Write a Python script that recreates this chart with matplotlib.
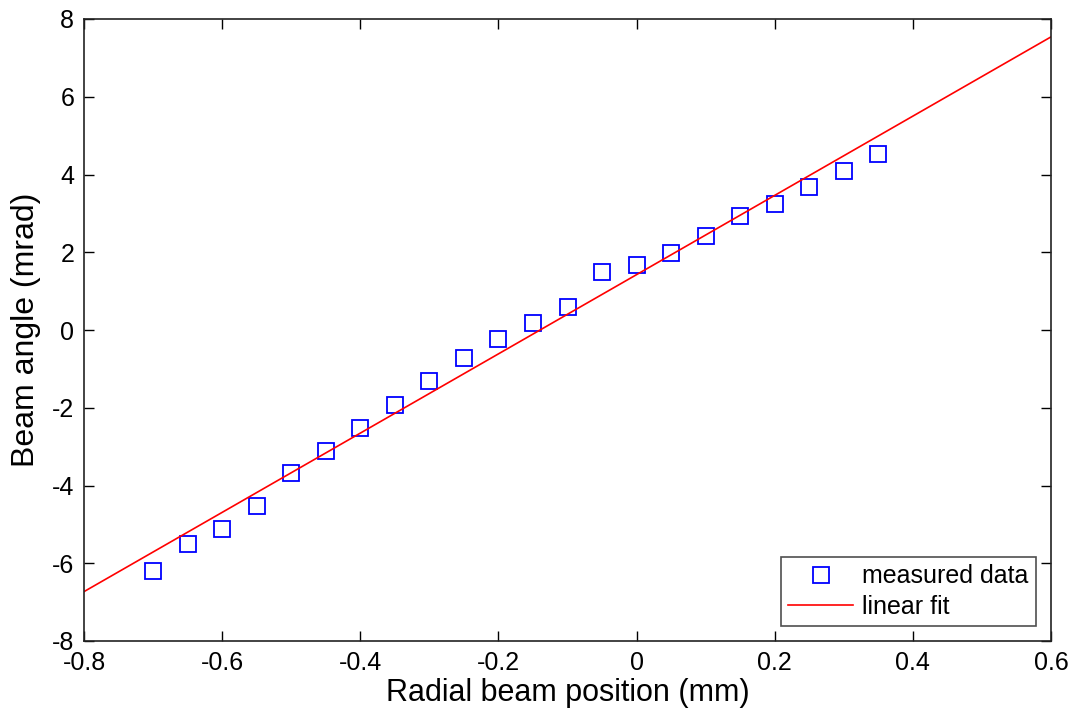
import numpy as np
import matplotlib.pyplot as plt

plt.rcParams['font.family'] = ['Liberation Sans', 'DejaVu Sans']
plt.rcParams['axes.unicode_minus'] = False

pos_mm = [-0.70, -0.65, -0.60, -0.55, -0.50, -0.45, -0.40, -0.35, -0.30, -0.25, -0.20,
          -0.15, -0.10, -0.05, 0.00, 0.05, 0.10, 0.15, 0.20, 0.25, 0.30, 0.35]
angle_mrad = [-6.21, -5.51, -5.13, -4.54, -3.69, -3.10, -2.51, -1.92, -1.30, -0.73, -0.24,
              0.19, 0.60, 1.48, 1.66, 1.97, 2.43, 2.94, 3.25, 3.69, 4.10, 4.54]

# linear fit end points
fit_x = [-0.8, 0.6]
fit_y = [-6.73, 7.54]

fig = plt.figure(figsize=(10.77, 7.13), dpi=100)
ax = fig.add_axes([84/1077, 1-641/713, (1051-84)/1077, (641-19)/713])

ax.plot(pos_mm, angle_mrad, 's', mfc='none', mec='#0000ff', ms=12, mew=1.3,
        label='measured data', linestyle='none')
ax.plot(fit_x, fit_y, '-', color='#ff0000', lw=1.2, label='linear fit')

ax.set_xlim(-0.8, 0.6)
ax.set_ylim(-8, 8)
ax.set_xticks(np.arange(-0.8, 0.61, 0.2))
ax.set_xticklabels(['-0.8', '-0.6', '-0.4', '-0.2', '0', '0.2', '0.4', '0.6'])
ax.set_yticks(np.arange(-8, 9, 2))
ax.tick_params(direction='in', length=7, width=1, labelsize=18, top=True, right=True,
               pad=7)
for s in ax.spines.values():
    s.set_linewidth(1.2)
    s.set_color('#222222')

ax.set_xlabel('Radial beam position (mm)', fontsize=22, labelpad=2)
ax.set_ylabel('Beam angle (mrad)', fontsize=23, labelpad=8)

leg = ax.legend(loc='lower right', fontsize=18, frameon=True, fancybox=False,
                edgecolor='#222222', borderaxespad=0.6, handlelength=2.6,
                handletextpad=0.35, borderpad=0.3, labelspacing=0.25)
leg.get_frame().set_linewidth(1.2)

fig.savefig('out.png', dpi=100)
